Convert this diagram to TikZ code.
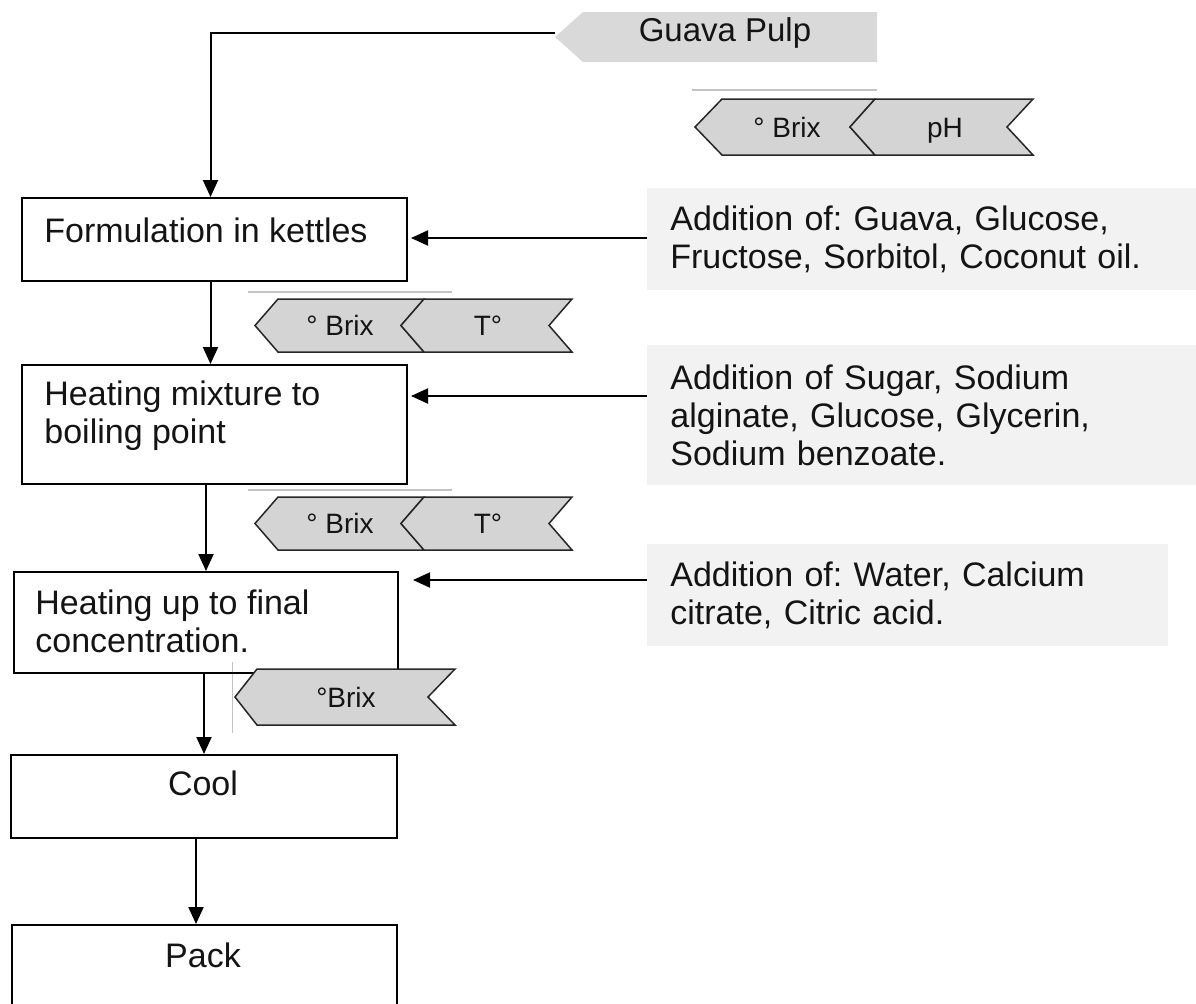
\documentclass[tikz,border=0pt]{standalone}
\usepackage{fontspec}
\setmainfont{Liberation Sans}
\usetikzlibrary{arrows.meta}
\definecolor{chev}{RGB}{212,212,212}
\definecolor{pulp}{RGB}{217,217,217}
\definecolor{addbg}{RGB}{242,242,242}
\definecolor{rulegray}{RGB}{195,195,195}
\definecolor{ink}{RGB}{20,20,20}
\frenchspacing
\begin{document}
\begin{tikzpicture}[x=0.5pt,y=-0.5pt,
  procbox/.style={draw=black, line width=1pt, inner sep=0pt},
  txt/.style={font=\fontsize{17}{19}\selectfont, text=ink, inner sep=0pt},
  chevtxt/.style={font=\fontsize{14}{16}\selectfont, text=ink, inner sep=0pt, anchor=base},
  chevshape/.style={fill=chev, draw=black!85, line width=0.75pt, line join=miter},
  grayrule/.style={draw=rulegray, line width=0.75pt},
  arr/.style={-{Triangle[length=8.5pt,width=7.5pt]}, line width=1pt},
  addbox/.style={fill=addbg, align=left, inner xsep=11.5pt, inner ysep=0pt, anchor=north west,
                 font=\fontsize{17}{19}\selectfont, text=ink}]
\useasboundingbox (0,0) rectangle (1196,1003);

% Guava pulp tag
\path[fill=pulp] (555,37) -- (583,12) -- (877,12) -- (877,62) -- (583,62) -- cycle;
\node[txt, font=\fontsize{16.5}{19}\selectfont] (gp) at (725,33) {Guava Pulp};
\coordinate (gptip) at (555,33);

% rules
\draw[grayrule] (692,90) -- (877,90);
\draw[grayrule] (248,292) -- (452,292);
\draw[grayrule] (248,490) -- (452,490);
\draw[draw=rulegray, line width=0.5pt] (232,662) -- (232,733);

% process boxes
\node[procbox, minimum width=192.5pt, minimum height=41.5pt] (f1) at (214.5,239.5) {};
\node[txt, anchor=west] (f1t) at (44,230) {Formulation in kettles};
\node[procbox, minimum width=192.5pt, minimum height=59.5pt] (f2) at (214.5,424.5) {};
\node[txt, anchor=west, align=left] (f2t) at (44,416) {Heating mixture to\\boiling point};
\node[procbox, minimum width=192pt, minimum height=50.5pt] (f3) at (206,622.5) {};
\node[txt, anchor=west, align=left] (f3t) at (35,621) {Heating up to final\\concentration.};
\node[procbox, minimum width=193pt, minimum height=41.5pt] (cool) at (204,796.5) {};
\node[txt] (coolt) at (203,783) {Cool};
\node[procbox, minimum width=192.5pt, minimum height=42pt] (pack) at (204.5,967) {};
\node[txt] (packt) at (203,955) {Pack};

% addition boxes
\node[addbox, text width=251.5pt, minimum height=51pt] (a1) at (647,188)
  {Addition of: Guava, Glucose,\\Fructose, Sorbitol, Coconut oil.};
\node[addbox, text width=251.5pt, minimum height=70pt] (a2) at (647,345)
  {Addition of Sugar, Sodium\\alginate, Glucose, Glycerin,\\Sodium benzoate.};
\node[addbox, text width=237.5pt, minimum height=51pt] (a3) at (647,544)
  {Addition of: Water, Calcium\\citrate, Citric acid.};

% chevrons: Brix / pH
\path[chevshape] (695,127) -- (722,99) -- (875,99) -- (850,127) -- (875,155) -- (722,155) -- cycle;
\path[chevshape] (850,127) -- (875,99) -- (1033,99) -- (1007,127) -- (1033,155) -- (875,155) -- cycle;
\node[chevtxt] (b0) at (787,137) {° Brix};
\node[chevtxt] (ph0) at (945,137) {pH};

% chevrons row 1
\path[chevshape] (255,325.5) -- (278,299) -- (424,299) -- (401,325.5) -- (424,352) -- (278,352) -- cycle;
\path[chevshape] (401,325.5) -- (424,299) -- (572,299) -- (549,325.5) -- (572,352) -- (424,352) -- cycle;
\node[chevtxt] (b1) at (340,335) {° Brix};
\node[chevtxt] (t1) at (488,335) {T°};

% chevrons row 2
\path[chevshape] (255,523.5) -- (278,497) -- (424,497) -- (401,523.5) -- (424,550) -- (278,550) -- cycle;
\path[chevshape] (401,523.5) -- (424,497) -- (572,497) -- (549,523.5) -- (572,550) -- (424,550) -- cycle;
\node[chevtxt] (b2) at (340,533) {° Brix};
\node[chevtxt] (t2) at (488,533) {T°};

% chevron row 3
\path[chevshape] (235,697) -- (257,669) -- (455,669) -- (428,697) -- (455,725) -- (257,725) -- cycle;
\node[chevtxt] (b3) at (346,707) {°Brix};

% connectors
\coordinate (coolout) at ([xshift=-4pt]cool.south);
\draw[arr] (gptip) -| ([xshift=-2pt]f1.north);
\draw[arr] ([xshift=-2pt]f1.south) -- ([xshift=-2pt]f2.north);
\draw[arr] (f2.south -| f3.north) -- (f3.north);
\draw[arr] (f3.south -| cool.north) -- (cool.north);
\draw[arr] (coolout) -- (coolout |- pack.north);
\draw[arr, shorten >=1.5pt] (a1.west |- 0,238) -- (f1.east |- 0,238);
\draw[arr, shorten >=1.5pt] (a2.west |- 0,396) -- (f2.east |- 0,396);
\draw[arr, shorten >=7pt] (a3.west |- 0,580) -- (f3.east |- 0,580);
\end{tikzpicture}
\end{document}
